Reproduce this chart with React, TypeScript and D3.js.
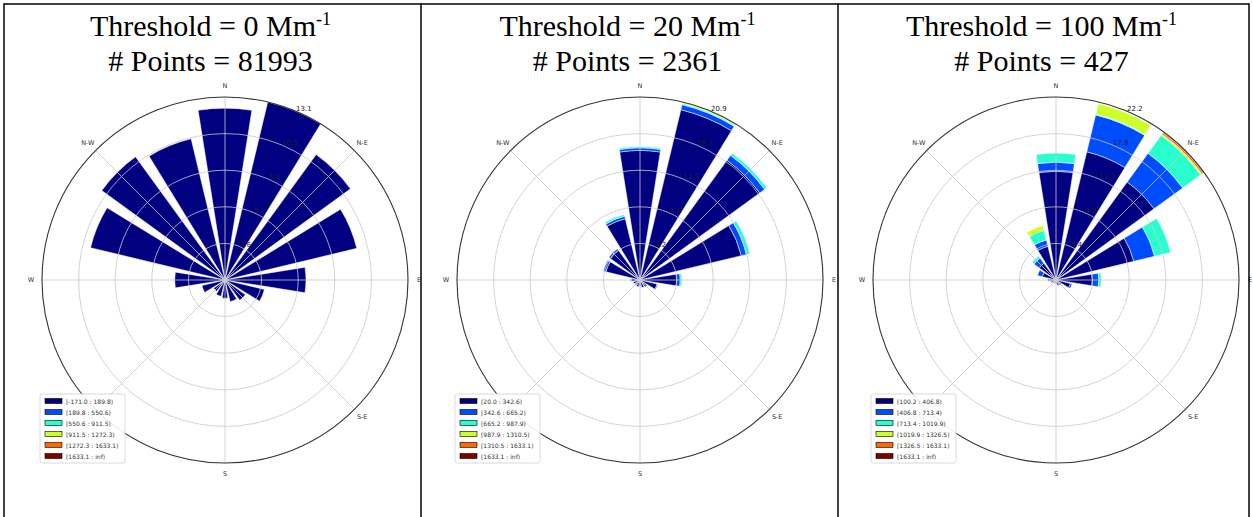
import React from "react";
import * as d3 from "d3";

const W = 1253;
const H = 517;

const directions = ["N", "NNE", "NE", "ENE", "E", "ESE", "SE", "SSE", "S", "SSW", "SW", "WSW", "W", "WNW", "NW", "NNW"];
const compassLabels = ["N", "N-E", "E", "S-E", "S", "S-W", "W", "N-W"];
const binColors = ["#000080", "#004cff", "#29ffce", "#ceff29", "#ff6800", "#800000"];

const thresholds = ["0", "20", "100"];
const pointCounts = ["81993", "2361", "427"];
const radialMax = [13.1, 20.9, 22.2];
const ringLabels1 = ["2.6", "5.2", "7.9", "10.5", "13.1"];
const ringLabels2 = ["4.2", "8.4", "12.5", "16.7", "20.9"];
const ringLabels3 = ["4.4", "8.9", "13.3", "17.8", "22.2"];

const legend1 = ["[-171.0 : 189.8)", "[189.8 : 550.6)", "[550.6 : 911.5)", "[911.5 : 1272.3)", "[1272.3 : 1633.1)", "[1633.1 : inf)"];
const legend2 = ["[20.0 : 342.6)", "[342.6 : 665.2)", "[665.2 : 987.9)", "[987.9 : 1310.5)", "[1310.5 : 1633.1)", "[1633.1 : inf)"];
const legend3 = ["[100.2 : 406.8)", "[406.8 : 713.4)", "[713.4 : 1019.9)", "[1019.9 : 1326.5)", "[1326.5 : 1633.1)", "[1633.1 : inf)"];

// frequencies (%) per direction, one array per bin
const p1Bin1 = [12.3, 13.1, 11.1, 9.7, 5.8, 2.9, 1.8, 1.6, 1.3, 1.2, 1.0, 1.7, 3.6, 9.9, 10.9, 10.4];
const p1Bin2 = [0, 0, 0, 0, 0, 0, 0, 0, 0, 0, 0, 0, 0, 0, 0, 0];
const p1Bin3 = [0, 0, 0, 0, 0, 0, 0, 0, 0, 0, 0, 0, 0, 0, 0, 0];
const p1Bin4 = [0, 0, 0, 0, 0, 0, 0, 0, 0, 0, 0, 0, 0, 0, 0, 0];
const p1Bin5 = [0, 0, 0, 0, 0, 0, 0, 0, 0, 0, 0, 0, 0, 0, 0, 0];
const p1Bin6 = [0, 0, 0, 0, 0, 0, 0, 0, 0, 0, 0, 0, 0, 0, 0, 0];

const p2Bin1 = [14.8, 20.0, 16.9, 11.9, 4.2, 2.0, 1.0, 0.9, 0.7, 0.8, 0.7, 0.8, 1.0, 4.0, 4.2, 7.2];
const p2Bin2 = [0.3, 0.6, 0.7, 0.6, 0.4, 0.1, 0, 0, 0, 0, 0, 0, 0.1, 0.3, 0.2, 0.3];
const p2Bin3 = [0.15, 0.15, 0.3, 0.4, 0.2, 0, 0, 0, 0, 0, 0, 0, 0, 0, 0, 0.2];
const p2Bin4 = [0, 0.15, 0, 0, 0, 0, 0, 0, 0, 0, 0, 0, 0, 0, 0, 0];
const p2Bin5 = [0, 0, 0, 0, 0, 0, 0, 0, 0, 0, 0, 0, 0, 0, 0, 0];
const p2Bin6 = [0, 0, 0, 0, 0, 0, 0, 0, 0, 0, 0, 0, 0, 0, 0, 0];

const p3Bin1 = [13.2, 16.0, 14.7, 9.7, 4.4, 1.8, 0.8, 0.7, 0.5, 0.4, 0.5, 0.6, 0.8, 1.7, 2.5, 4.2];
const p3Bin2 = [1.1, 4.6, 4.3, 2.6, 0.8, 0.2, 0, 0, 0, 0, 0, 0, 0.2, 0.6, 0.8, 0.8];
const p3Bin3 = [1.1, 0.1, 2.7, 2.0, 0.3, 0, 0, 0, 0, 0, 0, 0, 0, 0, 0.3, 1.2];
const p3Bin4 = [0, 1.3, 0.2, 0, 0, 0, 0, 0, 0, 0, 0, 0, 0, 0, 0, 0.6];
const p3Bin5 = [0, 0, 0.2, 0, 0, 0, 0, 0, 0, 0, 0, 0, 0, 0, 0, 0];
const p3Bin6 = [0, 0, 0.1, 0, 0, 0, 0, 0, 0, 0, 0, 0, 0, 0, 0, 0];

const panelBins = [
  [p1Bin1, p1Bin2, p1Bin3, p1Bin4, p1Bin5, p1Bin6],
  [p2Bin1, p2Bin2, p2Bin3, p2Bin4, p2Bin5, p2Bin6],
  [p3Bin1, p3Bin2, p3Bin3, p3Bin4, p3Bin5, p3Bin6],
];
const panelRings = [ringLabels1, ringLabels2, ringLabels3];
const panelLegends = [legend1, legend2, legend3];

// layout
const cellEdges = [4, 421, 838, 1249];
const roseCx = [225, 640, 1056];
const roseCy = 280;
const R = 183;
const opening = 0.8;

const serif = "'Liberation Serif', 'Times New Roman', serif";
const sans = "'DejaVu Sans', sans-serif";

function Rose({ idx }: { idx: number }) {
  const cx = roseCx[idx];
  const rmax = radialMax[idx];
  const r = d3.scaleLinear().domain([0, rmax]).range([0, R]);
  const bins = panelBins[idx];
  const rings = panelRings[idx];
  const legend = panelLegends[idx];
  const step = (2 * Math.PI) / directions.length;
  const half = (step * opening) / 2;
  const arc = d3.arc<any>();

  const wedges: React.ReactNode[] = [];
  directions.forEach((_, d) => {
    let cum = 0;
    bins.forEach((bin, b) => {
      const v = bin[d];
      if (v <= 0) return;
      const path = arc({
        innerRadius: r(cum),
        outerRadius: r(cum + v),
        startAngle: d * step - half,
        endAngle: d * step + half,
      });
      wedges.push(
        <path key={`w${d}-${b}`} d={path || ""} fill={binColors[b]} stroke="#ffffff" strokeWidth={0.5} />
      );
      cum += v;
    });
  });

  const ringVals = rings.map((_, i) => (rmax * (i + 1)) / rings.length);
  const labAng = Math.PI / 8;

  return (
    <g transform={`translate(${cx},${roseCy})`}>
      {wedges}
      {compassLabels.map((_, i) => {
        const a = (i * Math.PI) / 4;
        return (
          <line key={`sp${i}`} x1={0} y1={0} x2={R * Math.sin(a)} y2={-R * Math.cos(a)} stroke="#c8c8c8" strokeWidth={0.8} />
        );
      })}
      {ringVals.slice(0, -1).map((v, i) => (
        <circle key={`rg${i}`} r={r(v)} fill="none" stroke="#c8c8c8" strokeWidth={0.8} />
      ))}
      <circle r={R} fill="none" stroke="#333333" strokeWidth={1.1} />
      {rings.map((t, i) => {
        const rr = r(ringVals[i]);
        return (
          <text key={`rl${i}`} x={rr * Math.sin(labAng) + 1} y={-rr * Math.cos(labAng) + 0.5} fontFamily={sans} fontSize={7} fill="#222">
            {t}
          </text>
        );
      })}
      {compassLabels.map((t, i) => {
        const a = (i * Math.PI) / 4;
        const rl = 194;
        return (
          <text key={`cl${i}`} x={rl * Math.sin(a)} y={-rl * Math.cos(a)} textAnchor="middle" dominantBaseline="central" fontFamily={sans} fontSize={6.5} fill="#333">
            {t}
          </text>
        );
      })}
      <g transform={`translate(${-185},${114})`}>
        <rect x={0} y={0} width={85} height={69} rx={2} fill="#ffffff" fillOpacity={0.9} stroke="#d0d0d0" strokeWidth={0.8} />
        {legend.map((t, i) => (
          <g key={`lg${i}`} transform={`translate(0,${7 + i * 11})`}>
            <rect x={5} y={-2.5} width={17} height={5} fill={binColors[i]} stroke="#000" strokeWidth={0.6} />
            <text x={26} y={0} dominantBaseline="central" fontFamily={sans} fontSize={6} fill="#333">
              {t}
            </text>
          </g>
        ))}
      </g>
    </g>
  );
}

export default function App() {
  return (
    <svg width={W} height={H} style={{ position: "absolute", left: 0, top: 0, background: "#fff" }}>
      <rect x={0} y={0} width={W} height={H} fill="#fff" />
      {[0, 1, 2].map((i) => (
        <Rose key={i} idx={i} />
      ))}
      {[0, 1, 2].map((i) => {
        const cx = (cellEdges[i] + cellEdges[i + 1]) / 2 - 2;
        return (
          <g key={`t${i}`}>
            <text x={cx} y={36} textAnchor="middle" fontFamily={serif} fontSize={30} fill="#000">
              {`Threshold = ${thresholds[i]} Mm`}
              <tspan fontSize={18} dy={-11}>-1</tspan>
            </text>
            <text x={cx} y={71} textAnchor="middle" fontFamily={serif} fontSize={30} fill="#000">
              {`# Points = ${pointCounts[i]}`}
            </text>
          </g>
        );
      })}
      <line x1={cellEdges[0]} x2={cellEdges[3]} y1={4} y2={4} stroke="#000" strokeWidth={1.5} />
      {cellEdges.map((x, i) => (
        <line key={`v${i}`} x1={x} x2={x} y1={3.25} y2={H} stroke="#000" strokeWidth={1.5} />
      ))}
    </svg>
  );
}
